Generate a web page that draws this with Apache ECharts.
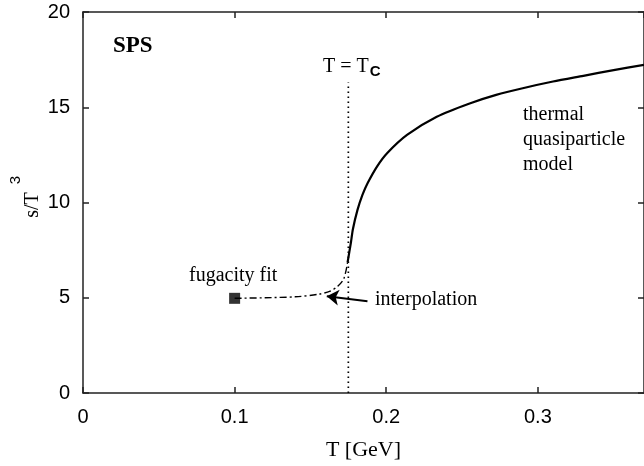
<!DOCTYPE html>
<html>
<head>
<meta charset="utf-8">
<script src="https://cdn.jsdelivr.net/npm/echarts@6/dist/echarts.min.js"></script>
<style>html,body{margin:0;padding:0;background:#fff;}#c{width:644px;height:466px;}</style>
</head>
<body>
<div id="c"></div>
<script>
// thermal quasiparticle model (solid)
const qpModel = [
  [0.1745, 6.86], [0.1767, 7.9], [0.178, 8.6], [0.181, 9.6], [0.1843, 10.4],
  [0.1876, 11.0], [0.194, 11.9], [0.2007, 12.6], [0.2137, 13.55], [0.2333, 14.5],
  [0.255, 15.2], [0.2725, 15.65], [0.29, 16.0], [0.31, 16.35], [0.33, 16.65],
  [0.35, 16.95], [0.37, 17.22]
];
// interpolation (dash-dot)
const interp = [
  [0.1, 4.97], [0.12, 5.0], [0.14, 5.05], [0.155, 5.18], [0.163, 5.35],
  [0.168, 5.6], [0.172, 6.0], [0.1745, 6.86]
];
// fugacity fit point
const fugacityFit = [[0.1, 4.97]];
// critical temperature line
const Tc = 0.175;
const tcLine = [[Tc, 0], [Tc, 16.3]];
const xTicks = [0, 0.1, 0.2, 0.3];
const yTicks = [0, 5, 10, 15, 20];

const chart = echarts.init(document.getElementById('c'));
const axisCol = '#222';
const serif = '"Liberation Serif", "DejaVu Serif", serif';
const sans = '"Liberation Sans", Arial, sans-serif';
const lineCommon = { show: true, onZero: false, lineStyle: { color: axisCol, width: 1.5 } };
const tickCommon = { show: true, inside: true, length: 6, lineStyle: { color: axisCol, width: 1.5 } };

chart.setOption({
  animation: false,
  grid: { left: 83, top: 12, width: 566, height: 382, containLabel: false },
  xAxis: [{
    type: 'value', min: 0, max: 0.37, interval: 0.1, position: 'bottom',
    axisLine: lineCommon, axisTick: tickCommon,
    axisLabel: { show: true, margin: 14, fontSize: 20, fontFamily: sans, color: '#000', showMaxLabel: false,
      formatter: v => xTicks.includes(Math.round(v * 10) / 10) ? String(Math.round(v * 10) / 10) : '' },
    splitLine: { show: false },
    name: 'T [GeV]', nameLocation: 'middle', nameGap: 46,
    nameTextStyle: { fontFamily: serif, fontSize: 22, color: '#000' }
  }, {
    type: 'value', min: 0, max: 0.37, interval: 0.1, position: 'top',
    axisLine: lineCommon, axisTick: tickCommon,
    axisLabel: { show: false }, splitLine: { show: false }
  }],
  yAxis: [{
    type: 'value', min: 0, max: 20, interval: 5, position: 'left',
    axisLine: lineCommon, axisTick: tickCommon,
    axisLabel: { show: true, margin: 13, fontSize: 20, fontFamily: sans, color: '#000',
      formatter: v => yTicks.includes(v) ? String(v) : '' },
    splitLine: { show: false }
  }, {
    type: 'value', min: 0, max: 20, interval: 5, position: 'right',
    axisLine: lineCommon, axisTick: tickCommon,
    axisLabel: { show: false }, splitLine: { show: false }
  }],
  series: [{
    type: 'line', data: tcLine, showSymbol: false, symbol: 'none',
    lineStyle: { color: '#000', width: 1.7, type: [1.6, 3.4] }
  }, {
    type: 'line', data: qpModel, smooth: 0.25, showSymbol: false, symbol: 'none',
    lineStyle: { color: '#000', width: 2.2 }
  }, {
    type: 'line', data: interp, smooth: 0.3, showSymbol: false, symbol: 'none',
    lineStyle: { color: '#000', width: 1.4, type: [7, 3, 2, 3] },
    markLine: {
      silent: true, animation: false,
      symbol: ['none', 'arrow'], symbolSize: 12,
      lineStyle: { color: '#000', width: 2, type: 'solid' },
      label: { show: false },
      data: [[{ coord: [0.1876, 4.82] }, { coord: [0.1608, 5.08] }]]
    }
  }, {
    type: 'scatter', data: fugacityFit, symbol: 'rect', symbolSize: 11,
    itemStyle: { color: '#000' }
  }],
  graphic: [
    { type: 'text', x: 33, y: 205, rotation: Math.PI / 2,
      style: { text: 's/T', font: '20px ' + serif, fill: '#000', align: 'center', verticalAlign: 'middle' } },
    { type: 'text', x: 16, y: 180, rotation: Math.PI / 2,
      style: { text: '3', font: '15px ' + sans, fill: '#000', align: 'center', verticalAlign: 'middle' } },
    { type: 'text', left: 113, top: 35, style: { text: 'SPS', font: 'bold 23px ' + serif, fill: '#000' } },
    { type: 'text', left: 323, top: 57, style: {
        text: '{a|T = T}{b|C}',
        rich: { a: { fontFamily: serif, fontSize: 20, fill: '#000' },
                b: { fontFamily: sans, fontSize: 15, fontWeight: 'bold', fill: '#000', padding: [10, 0, 0, 1] } } } },
    { type: 'text', left: 523, top: 102, style: { text: 'thermal\nquasiparticle\nmodel', font: '20px ' + serif, fill: '#000', lineHeight: 25 } },
    { type: 'text', left: 189, top: 266, style: { text: 'fugacity fit', font: '20px ' + serif, fill: '#000' } },
    { type: 'text', left: 375, top: 290, style: { text: 'interpolation', font: '20px ' + serif, fill: '#000' } }
  ]
});
</script>
</body>
</html>
